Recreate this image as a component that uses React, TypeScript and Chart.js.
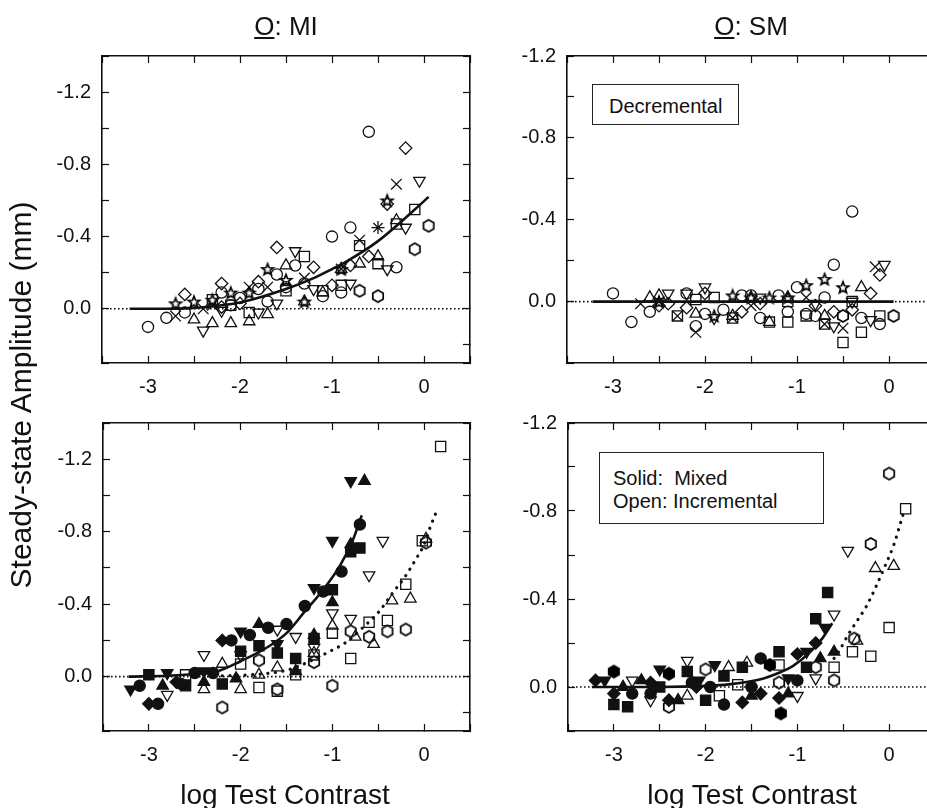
import React, { useEffect, useRef } from 'react';
import { Chart, registerables } from 'chart.js';
Chart.register(...registerables);

type P = [number, number];

// ---------- axis ticks ----------
const xRange: P = [-3.5, 0.5];
const yRangeTL: P = [-1.4, 0.3];
const yRangeTR: P = [-1.2, 0.3];
const yRangeBL: P = [-1.4, 0.3];
const yRangeBR: P = [-1.2, 0.2];
const xTickLabels = ['-3', '-2', '-1', '0'];
const yTickLabels = ['-1.2', '-0.8', '-0.4', '0.0'];

// ---------- top-left  O: MI (decremental) ----------
const tlCircle: P[] = [[-3.0,0.10],[-2.8,0.05],[-2.6,0.02],[-2.2,-0.09],[-2.1,-0.02],[-2.0,-0.06],[-1.8,-0.11],[-1.7,-0.04],[-1.6,-0.19],[-1.5,-0.12],[-1.4,-0.24],[-1.3,-0.14],[-1.1,-0.07],[-1.0,-0.40],[-0.9,-0.09],[-0.8,-0.45],[-0.6,-0.98],[-0.3,-0.23]];
const tlHexagon: P[] = [[-0.7,-0.10],[-0.5,-0.07],[-0.1,-0.33],[0.05,-0.46]];
const tlDiamond: P[] = [[-2.6,-0.08],[-2.2,-0.14],[-2.2,-0.01],[-2.0,-0.03],[-1.8,-0.15],[-1.6,-0.34],[-1.2,-0.23],[-1.0,-0.13],[-0.8,-0.24],[-0.6,-0.29],[-0.4,-0.58],[-0.2,-0.89]];
const tlSquare: P[] = [[-2.3,-0.05],[-2.1,-0.02],[-1.9,0.02],[-1.5,-0.10],[-1.3,-0.29],[-1.1,-0.10],[-0.9,-0.13],[-0.7,-0.35],[-0.5,-0.25],[-0.3,-0.47],[-0.1,-0.55]];
const tlTriUp: P[] = [[-2.5,0.06],[-2.3,0.08],[-2.1,0.08],[-1.9,0.07],[-1.7,0.03],[-1.5,-0.24],[-1.3,-0.04],[-1.1,-0.09],[-0.9,-0.22],[-0.7,-0.25],[-0.5,-0.29],[-0.3,-0.49]];
const tlTriDown: P[] = [[-2.4,0.12],[-2.2,0.01],[-1.8,0.02],[-1.6,-0.03],[-1.4,-0.32],[-1.2,-0.11],[-0.8,-0.14],[-0.4,-0.22],[-0.2,-0.45],[-0.05,-0.71]];
const tlStar: P[] = [[-2.7,-0.03],[-2.5,-0.04],[-2.3,-0.05],[-2.1,-0.09],[-1.9,-0.09],[-1.7,-0.22],[-1.5,-0.16],[-1.3,-0.04],[-0.9,-0.22],[-0.4,-0.60]];
const tlCross: P[] = [[-2.7,0.04],[-2.4,0.0],[-2.3,-0.02],[-1.9,-0.12],[-1.7,-0.12],[-1.3,-0.17],[-0.9,-0.22],[-0.7,-0.38],[-0.3,-0.69]];
const tlAsterisk: P[] = [[-0.5,-0.45]];
const tlFit: P[] = [[-3.2,0],[-2.8,0],[-2.5,-0.005],[-2.2,-0.02],[-2.0,-0.035],[-1.5,-0.11],[-1.2,-0.17],[-1.0,-0.22],[-0.85,-0.26],[-0.5,-0.375],[-0.1,-0.55],[0.05,-0.62]];

// ---------- top-right  O: SM (decremental) ----------
const trCircle: P[] = [[-3.0,-0.04],[-2.8,0.10],[-2.6,0.05],[-2.2,-0.04],[-2.1,0.12],[-2.0,0.06],[-1.8,0.04],[-1.6,-0.03],[-1.5,-0.03],[-1.4,0.08],[-1.2,-0.03],[-1.1,0.05],[-1.0,-0.07],[-0.9,0.06],[-0.8,0.07],[-0.7,-0.02],[-0.6,-0.18],[-0.4,-0.44],[-0.3,0.08],[-0.1,0.11]];
const trHexagon: P[] = [[0.05,0.07],[-0.5,0.07]];
const trSquare: P[] = [[-2.3,0.07],[-2.1,-0.01],[-1.9,-0.02],[-1.7,0.08],[-1.3,0.10],[-1.1,0.10],[-1.1,0.0],[-0.9,0.07],[-0.7,0.11],[-0.5,0.20],[-0.4,0.0],[-0.3,0.15],[-0.1,0.07]];
const trTriUp: P[] = [[-2.6,-0.02],[-2.5,-0.03],[-2.1,0.06],[-1.7,0.07],[-1.5,-0.02],[-1.3,0.10],[-1.1,-0.02],[-0.7,0.07],[-0.3,-0.07]];
const trTriDown: P[] = [[-2.4,-0.04],[-2.2,-0.04],[-2.0,-0.07],[-1.9,0.08],[-1.4,-0.02],[-0.8,0.01],[-0.6,0.12],[-0.4,0.0],[-0.2,0.09],[-0.05,-0.18]];
const trDiamond: P[] = [[-2.5,0.02],[-2.4,0.01],[-2.2,0.03],[-2.0,-0.04],[-1.6,0.05],[-1.4,0.01],[-0.8,0.02],[-0.6,0.05],[-0.4,0.04],[-0.2,-0.04],[-0.1,-0.13]];
const trStar: P[] = [[-2.5,0.0],[-1.9,0.07],[-1.7,-0.03],[-1.5,-0.02],[-1.3,-0.02],[-1.1,-0.02],[-0.9,-0.08],[-0.7,-0.11],[-0.5,-0.07]];
const trCross: P[] = [[-2.7,0.01],[-2.5,0.0],[-2.3,0.07],[-2.1,0.15],[-1.7,0.08],[-1.5,0.02],[-0.9,-0.02],[-0.7,0.11],[-0.5,0.13],[-0.15,-0.17]];
const trFit: P[] = [[-3.22,0],[0.05,0]];

// ---------- bottom-left  O: MI (solid = mixed, open = incremental) ----------
const blCircleS: P[] = [[-3.1,0.05],[-2.9,0.15],[-2.65,0.04],[-2.5,-0.02],[-2.3,-0.02],[-2.1,-0.20],[-1.9,-0.23],[-1.7,-0.27],[-1.5,-0.29],[-1.3,-0.39],[-1.1,-0.47],[-0.9,-0.58],[-0.7,-0.84]];
const blDiamondS: P[] = [[-3.0,0.15],[-2.7,0.03],[-2.2,-0.20]];
const blSquareS: P[] = [[-3.0,-0.01],[-2.6,0.05],[-2.2,0.04],[-2.0,-0.14],[-1.8,-0.17],[-1.6,-0.13],[-1.4,-0.10],[-1.2,-0.21],[-1.0,-0.48],[-0.8,-0.69],[-0.7,-0.71]];
const blTriUpS: P[] = [[-2.85,0.05],[-2.4,0.03],[-2.05,0.01],[-1.8,-0.29],[-1.4,-0.03],[-1.2,-0.23],[-1.0,-0.41],[-0.8,-0.73],[-0.65,-1.08]];
const blTriDownS: P[] = [[-3.2,0.07],[-2.8,-0.02],[-2.4,-0.03],[-2.0,-0.25],[-1.6,-0.18],[-1.2,-0.49],[-1.0,-0.75],[-0.8,-1.08]];
const blTriDownO: P[] = [[-2.8,0.10],[-2.4,-0.12],[-2.0,-0.12],[-1.6,-0.26],[-1.4,-0.22],[-1.2,-0.16],[-1.0,-0.35],[-0.8,-0.32],[-0.6,-0.56],[-0.45,-0.75]];
const blTriUpO: P[] = [[-2.4,0.07],[-2.2,-0.07],[-2.0,0.07],[-1.8,-0.01],[-1.6,-0.05],[-1.2,-0.13],[-1.0,-0.28],[-0.75,-0.22],[-0.55,-0.18],[-0.35,-0.42],[-0.15,-0.43],[0.02,-0.76]];
const blSquareO: P[] = [[-2.6,-0.01],[-2.0,-0.07],[-1.8,0.06],[-1.6,0.08],[-1.4,-0.01],[-1.2,-0.12],[-1.0,-0.24],[-0.8,-0.10],[-0.6,-0.30],[-0.4,-0.31],[-0.2,-0.51],[-0.02,-0.75],[0.18,-1.27]];
const blHexagonO: P[] = [[-2.2,0.17],[-1.8,-0.09],[-1.6,0.07],[-1.2,-0.08],[-1.0,0.05],[-0.8,-0.25],[-0.6,-0.22],[-0.4,-0.25],[-0.2,-0.26],[0.02,-0.74]];
const blFitMixed: P[] = [[-3.22,0],[-2.8,-0.005],[-2.5,-0.015],[-2.25,-0.03],[-2.0,-0.085],[-1.7,-0.165],[-1.5,-0.24],[-1.3,-0.36],[-1.1,-0.48],[-0.92,-0.61],[-0.78,-0.75],[-0.68,-0.89]];
const blFitIncr: P[] = [[-2.2,-0.005],[-1.9,-0.01],[-1.5,-0.035],[-1.23,-0.088],[-1.05,-0.134],[-0.85,-0.19],[-0.67,-0.27],[-0.49,-0.36],[-0.35,-0.457],[-0.21,-0.55],[-0.1,-0.64],[0.0,-0.73],[0.07,-0.83],[0.15,-0.93]];

// ---------- bottom-right  O: SM ----------
const brDiamondS: P[] = [[-3.2,-0.03],[-3.0,0.03],[-2.6,-0.02],[-2.4,0.06],[-2.1,0.0],[-1.6,0.07],[-1.4,0.03],[-1.2,0.05],[-1.0,-0.15],[-0.8,-0.20]];
const brTriDownS: P[] = [[-3.1,-0.03],[-2.5,-0.08],[-2.07,-0.03],[-1.9,-0.10],[-1.1,-0.04],[-0.9,-0.16],[-0.7,-0.27]];
const brHexagonS: P[] = [[-3.0,-0.07],[-2.4,-0.06],[-1.3,-0.10],[-1.18,0.12]];
const brSquareS: P[] = [[-3.0,0.08],[-2.85,0.09],[-2.5,0.0],[-2.2,-0.07],[-2.0,0.06],[-1.8,-0.05],[-1.6,-0.09],[-1.2,-0.16],[-0.9,-0.09],[-0.8,-0.31],[-0.67,-0.43]];
const brCircleS: P[] = [[-2.8,0.03],[-2.6,0.03],[-2.15,-0.02],[-1.95,0.0],[-1.8,0.08],[-1.5,0.0],[-1.4,-0.13],[-1.0,-0.03]];
const brTriUpS: P[] = [[-2.9,0.0],[-2.7,-0.03],[-2.3,0.06],[-1.5,0.04],[-1.1,0.03],[-0.75,-0.13],[-0.6,-0.16]];
const brTriDownO: P[] = [[-2.8,-0.03],[-2.6,0.06],[-2.2,-0.12],[-1.0,0.04],[-0.8,-0.04],[-0.6,-0.33],[-0.45,-0.62]];
const brTriUpO: P[] = [[-2.2,0.04],[-1.75,-0.09],[-1.55,-0.11],[-0.35,-0.21],[-0.15,-0.54],[0.05,-0.55]];
const brSquareO: P[] = [[-1.85,0.04],[-1.65,-0.01],[-1.2,-0.10],[-0.6,-0.09],[-0.4,-0.16],[-0.2,-0.14],[0.0,-0.27],[0.18,-0.81]];
const brHexagonO: P[] = [[-2.4,0.09],[-2.0,-0.08],[-1.2,-0.02],[-0.8,-0.09],[-0.6,-0.03],[-0.38,-0.22],[-0.2,-0.65],[0.0,-0.97]];
const brFitMixed: P[] = [[-3.24,0],[-2.5,0],[-2.0,-0.005],[-1.75,-0.012],[-1.4,-0.035],[-1.2,-0.065],[-1.05,-0.095],[-0.87,-0.155],[-0.73,-0.22],[-0.62,-0.29]];
const brFitIncr: P[] = [[-0.6,-0.13],[-0.55,-0.16],[-0.45,-0.235],[-0.35,-0.3],[-0.25,-0.365],[-0.15,-0.45],[-0.05,-0.545],[0.05,-0.645],[0.12,-0.74],[0.17,-0.81]];

const zeroLine: P[] = [[-3.5, 0], [0.5, 0]];

// ---------- styling ----------
const FONT = '"Liberation Sans", Arial, Helvetica, sans-serif';
const INK = '#111111';

function makeShape(kind: 'hex' | 'star', filled: boolean): HTMLCanvasElement {
  const c = document.createElement('canvas');
  const s = 16;
  c.width = s;
  c.height = s;
  const ctx = c.getContext('2d') as CanvasRenderingContext2D;
  ctx.translate(s / 2, s / 2);
  ctx.beginPath();
  if (kind === 'hex') {
    const r = 6;
    for (let i = 0; i < 6; i++) {
      const a = Math.PI / 2 + (i * Math.PI) / 3;
      const px = r * Math.cos(a);
      const py = -r * Math.sin(a);
      if (i === 0) ctx.moveTo(px, py); else ctx.lineTo(px, py);
    }
  } else {
    for (let i = 0; i < 10; i++) {
      const a = -Math.PI / 2 + (i * Math.PI) / 5;
      const rr = i % 2 ? 2.6 : 6;
      const px = rr * Math.cos(a);
      const py = rr * Math.sin(a) + 0.6;
      if (i === 0) ctx.moveTo(px, py); else ctx.lineTo(px, py);
    }
  }
  ctx.closePath();
  if (filled) {
    ctx.fillStyle = '#000';
    ctx.fill();
  }
  ctx.lineWidth = 1.7;
  ctx.strokeStyle = '#000';
  ctx.stroke();
  return c;
}

const pts = (a: P[]) => a.map(([x, y]) => ({ x, y }));

type Shape = 'circle' | 'rect' | 'rectRot' | 'triUp' | 'triDown' | 'crossRot' | 'asterisk' | 'hex' | 'star';

function markers(data: P[], shape: Shape, filled: boolean, imgs: Record<string, HTMLCanvasElement>) {
  let style: any = shape;
  let radius = 5.6;
  let rotation = 0;
  if (shape === 'rect') radius = 7.2;
  if (shape === 'rectRot') radius = 6.2;
  if (shape === 'triUp' || shape === 'triDown') {
    style = 'triangle';
    radius = 6.6;
    if (shape === 'triDown') rotation = 180;
  }
  if (shape === 'crossRot') radius = 7.5;
  if (shape === 'asterisk') { style = 'star'; radius = 6.5; }
  if (shape === 'hex') style = imgs[filled ? 'hexF' : 'hexO'];
  if (shape === 'star') style = imgs.starO;
  return {
    data: pts(data),
    showLine: false,
    pointStyle: style,
    pointRadius: radius,
    pointRotation: rotation,
    pointBackgroundColor: filled ? INK : 'rgba(0,0,0,0)',
    pointBorderColor: INK,
    pointBorderWidth: 1.3,
  };
}

function line(data: P[], kind: 'solid' | 'dots' | 'zero') {
  const base: any = {
    data: pts(data),
    showLine: true,
    pointRadius: 0,
    borderColor: INK,
    fill: false,
    tension: 0.4,
    cubicInterpolationMode: 'monotone',
  };
  if (kind === 'solid') {
    base.borderWidth = 2.6;
  } else if (kind === 'dots') {
    base.borderWidth = 3.2;
    base.borderDash = [0.1, 7.5];
    base.borderCapStyle = 'round';
  } else {
    base.borderWidth = 1.6;
    base.borderDash = [1.6, 2.4];
    base.tension = 0;
  }
  return base;
}

function isStep(v: number, step: number) {
  const q = v / step;
  return Math.abs(q - Math.round(q)) < 1e-6;
}

function options(yr: P) {
  const grid = { drawOnChartArea: false, drawTicks: true, tickLength: -7, tickColor: INK, tickWidth: 1.2 };
  const border = { display: true, color: INK, width: 1.6 };
  const tickFont = { family: FONT, size: 20 };
  return {
    responsive: false,
    animation: false as const,
    events: [] as any[],
    layout: { padding: { left: 0, top: 30, right: 30, bottom: 0 } },
    plugins: { legend: { display: false }, tooltip: { enabled: false } },
    scales: {
      x: {
        type: 'linear', position: 'bottom', min: xRange[0], max: xRange[1],
        grid, border,
        ticks: {
          stepSize: 0.5, autoSkip: false, maxRotation: 0, padding: 19, color: INK, font: tickFont,
          callback: (v: number) => {
            if (!isStep(v, 1)) return '';
            const lbl = String(Math.round(v));
            return xTickLabels.includes(lbl) ? lbl : '';
          },
        },
        afterFit: (s: any) => { s.height = 60; },
      },
      x2: {
        type: 'linear', position: 'top', min: xRange[0], max: xRange[1],
        grid, border,
        ticks: { display: false, stepSize: 0.5 },
        afterFit: (s: any) => { s.height = 0; },
      },
      y: {
        type: 'linear', position: 'left', min: yr[0], max: yr[1], reverse: true,
        grid, border,
        ticks: {
          stepSize: 0.2, autoSkip: false, padding: 18, color: INK, font: tickFont,
          callback: (v: number) => {
            if (!isStep(v, 0.4)) return '';
            const lbl = v.toFixed(1);
            return yTickLabels.includes(lbl) ? lbl : '';
          },
        },
        afterFit: (s: any) => { s.width = 100; },
      },
      y2: {
        type: 'linear', position: 'right', min: yr[0], max: yr[1], reverse: true,
        grid, border,
        ticks: { display: false, stepSize: 0.2 },
        afterFit: (s: any) => { s.width = 0; },
      },
    },
  };
}

type PanelDef = { left: number; top: number; right: number; bottom: number; yr: P; datasets: (imgs: any) => any[] };

const panels: PanelDef[] = [
  {
    left: 102, top: 56, right: 470, bottom: 363, yr: yRangeTL,
    datasets: (im) => [
      line(tlFit, 'solid'),
      line(zeroLine, 'zero'),
      markers(tlCircle, 'circle', false, im),
      markers(tlHexagon, 'hex', false, im),
      markers(tlDiamond, 'rectRot', false, im),
      markers(tlSquare, 'rect', false, im),
      markers(tlTriUp, 'triUp', false, im),
      markers(tlTriDown, 'triDown', false, im),
      markers(tlStar, 'star', false, im),
      markers(tlCross, 'crossRot', false, im),
      markers(tlAsterisk, 'asterisk', false, im),
    ],
  },
  {
    left: 567, top: 56, right: 935, bottom: 363, yr: yRangeTR,
    datasets: (im) => [
      line(trFit, 'solid'),
      line(zeroLine, 'zero'),
      markers(trCircle, 'circle', false, im),
      markers(trHexagon, 'hex', false, im),
      markers(trSquare, 'rect', false, im),
      markers(trTriUp, 'triUp', false, im),
      markers(trTriDown, 'triDown', false, im),
      markers(trDiamond, 'rectRot', false, im),
      markers(trStar, 'star', false, im),
      markers(trCross, 'crossRot', false, im),
    ],
  },
  {
    left: 103, top: 423, right: 470, bottom: 731, yr: yRangeBL,
    datasets: (im) => [
      line(blFitMixed, 'solid'),
      line(blFitIncr, 'dots'),
      line(zeroLine, 'zero'),
      markers(blCircleS, 'circle', true, im),
      markers(blDiamondS, 'rectRot', true, im),
      markers(blSquareS, 'rect', true, im),
      markers(blTriUpS, 'triUp', true, im),
      markers(blTriDownS, 'triDown', true, im),
      markers(blTriDownO, 'triDown', false, im),
      markers(blTriUpO, 'triUp', false, im),
      markers(blSquareO, 'rect', false, im),
      markers(blHexagonO, 'hex', false, im),
    ],
  },
  {
    left: 568, top: 423, right: 935, bottom: 731, yr: yRangeBR,
    datasets: (im) => [
      line(brFitMixed, 'solid'),
      line(brFitIncr, 'dots'),
      line(zeroLine, 'zero'),
      markers(brDiamondS, 'rectRot', true, im),
      markers(brTriDownS, 'triDown', true, im),
      markers(brHexagonS, 'hex', true, im),
      markers(brSquareS, 'rect', true, im),
      markers(brCircleS, 'circle', true, im),
      markers(brTriUpS, 'triUp', true, im),
      markers(brTriDownO, 'triDown', false, im),
      markers(brTriUpO, 'triUp', false, im),
      markers(brSquareO, 'rect', false, im),
      markers(brHexagonO, 'hex', false, im),
    ],
  },
];

const PAD_L = 100, PAD_T = 30, PAD_R = 30, PAD_B = 60;

function Panel({ def }: { def: PanelDef }) {
  const ref = useRef<HTMLCanvasElement | null>(null);
  const w = def.right - def.left + PAD_L + PAD_R;
  const h = def.bottom - def.top + PAD_T + PAD_B;
  useEffect(() => {
    if (!ref.current) return;
    const imgs = {
      hexO: makeShape('hex', false),
      hexF: makeShape('hex', true),
      starO: makeShape('star', false),
    };
    const chart = new Chart(ref.current, {
      type: 'scatter',
      data: { datasets: def.datasets(imgs) },
      options: options(def.yr) as any,
    });
    return () => chart.destroy();
  }, []);
  return (
    <canvas
      ref={ref}
      width={w}
      height={h}
      style={{ position: 'absolute', left: def.left - PAD_L, top: def.top - PAD_T, width: w, height: h }}
    />
  );
}

const textStyle: React.CSSProperties = {
  position: 'absolute',
  fontFamily: FONT,
  color: INK,
  whiteSpace: 'pre',
  lineHeight: 1,
};

export default function App() {
  return (
    <div style={{ position: 'absolute', left: 0, top: 0, width: 927, height: 808, overflow: 'hidden', background: '#fff' }}>
      {panels.map((p, i) => <Panel key={i} def={p} />)}

      <div style={{ ...textStyle, left: 186, top: 13, width: 200, textAlign: 'center', fontSize: 26 }}>
        <span style={{ textDecoration: 'underline' }}>O</span>: MI
      </div>
      <div style={{ ...textStyle, left: 651, top: 13, width: 200, textAlign: 'center', fontSize: 26 }}>
        <span style={{ textDecoration: 'underline' }}>O</span>: SM
      </div>

      <div
        style={{
          ...textStyle, left: 21 - 250, top: 395 - 15, width: 500, height: 30, textAlign: 'center', fontSize: 30,
          transform: 'rotate(-90deg)', transformOrigin: '50% 50%',
        }}
      >
        Steady-state Amplitude (mm)
      </div>

      <div style={{ ...textStyle, left: 135, top: 781, width: 300, textAlign: 'center', fontSize: 28 }}>log Test Contrast</div>
      <div style={{ ...textStyle, left: 602, top: 781, width: 300, textAlign: 'center', fontSize: 28 }}>log Test Contrast</div>

      <div
        style={{
          ...textStyle, left: 592, top: 84, width: 147, height: 41, boxSizing: 'border-box',
          border: '1.5px solid #222', background: '#fff', fontSize: 20, paddingLeft: 16, paddingTop: 11,
        }}
      >
        Decremental
      </div>
      <div
        style={{
          ...textStyle, left: 599, top: 452, width: 225, height: 72, boxSizing: 'border-box',
          border: '1.5px solid #222', background: '#fff', fontSize: 20, paddingLeft: 13, paddingTop: 14, lineHeight: '23px',
        }}
      >
        {'Solid:  Mixed\nOpen: Incremental'}
      </div>
    </div>
  );
}
